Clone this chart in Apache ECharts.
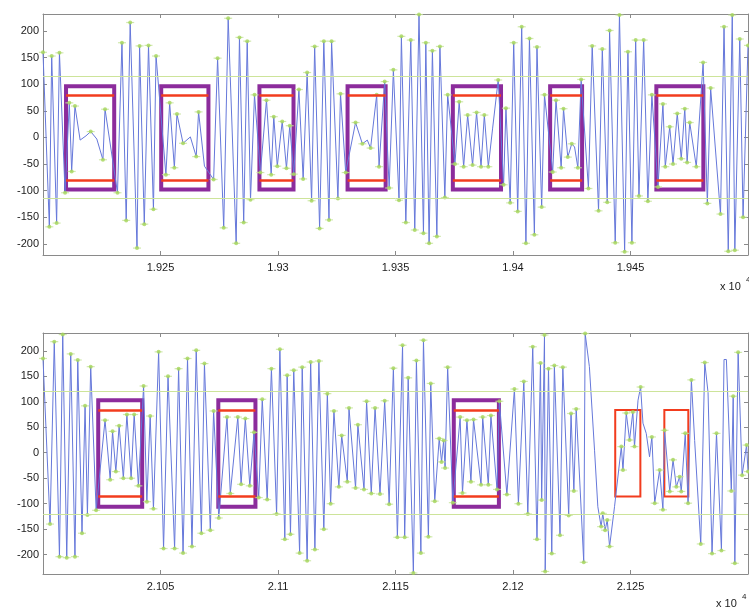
<!DOCTYPE html>
<html><head><meta charset="utf-8">
<script src="https://cdn.jsdelivr.net/npm/echarts@6/dist/echarts.min.js"></script>
<style>html,body{margin:0;padding:0;background:#fff}#c{width:749px;height:611px}</style>
</head><body><div id="c"></div>
<script>
// ---------- data ----------
const topX = [19200,19202.7,19203.7,19205.8,19207.0,19209.4,19211.2,19212.2,19213.6,19215.8,19218.3,19220.3,19222.9,19225.5,19226.4,19231.7,19233.6,19235.4,19237.1,19240.0,19241.1,19243.1,19244.9,19247.0,19248.1,19252.3,19253.9,19255.9,19257.0,19259.6,19262.7,19265.2,19266.2,19268.7,19272.6,19274.3,19276.9,19278.8,19282.2,19283.6,19285.4,19286.9,19288.3,19290.0,19292.5,19295.1,19297.1,19298.2,19299.7,19301.8,19303.6,19305.0,19306.7,19308.9,19310.7,19312.4,19314.3,19315.6,19317.7,19319.5,19321.7,19322.8,19325.5,19326.6,19328.8,19333.0,19335.9,19338.0,19339.4,19342.0,19343.0,19345.4,19347.3,19349.1,19351.5,19352.5,19354.4,19356.5,19358.2,19360.0,19361.9,19362.9,19364.3,19365.7,19367.6,19368.9,19371.0,19372.2,19375.3,19377.1,19379.0,19380.7,19382.8,19384.5,19386.4,19387.8,19389.5,19391.3,19393.7,19396.0,19397.0,19398.8,19400.3,19402.0,19403.7,19405.5,19407.0,19409.1,19410.2,19412.2,19413.4,19416.9,19418.3,19420.5,19421.5,19423.3,19425.0,19426.2,19427.6,19429.0,19432.1,19433.7,19436.4,19438.0,19440.1,19441.1,19443.5,19445.3,19447.5,19448.9,19450.6,19452.2,19453.6,19455.6,19457.4,19459.1,19461.7,19463.8,19464.8,19466.7,19468.1,19469.9,19471.6,19473.1,19474.1,19475.2,19478.0,19480.9,19482.7,19484.1,19488.3,19489.8,19491.6,19493.3,19494.4,19496.5,19497.9,19500];
const topY = [160,-168,153,-161,159,-104,65,-64,59,-5,3,11,-3,-42,53,-104,178,-156,216,-208,172,-163,173,-135,153,-70,65,-57,44,-11,1,-36,48,-54,-79,149,-170,224,-199,188,-160,181,-117,80,-66,70,-70,39,-54,30,-58,22,-69,90,-78,122,-119,171,-171,181,-155,181,-115,82,-66,28,-12,-5,-20,80,-55,105,-95,127,-118,190,-160,183,-174,231,-180,178,-199,163,-186,171,-113,80,-50,67,-55,42,-52,47,-55,42,-55,16,108,-89,55,-123,178,-139,208,-199,186,-183,170,-131,80,-65,70,-57,54,-37,-12,-18,-57,109,-96,172,-138,166,-122,201,-198,230,-215,161,-198,183,-110,183,-120,80,-93,63,-55,20,-50,45,-40,54,-47,28,-55,141,-124,93,-144,208,-214,230,-212,185,-150,173];

const botX = [21000,21003.0,21004.8,21007.0,21008.4,21010.1,21011.8,21013.6,21014.8,21016.6,21017.9,21018.9,21020.3,21022.6,21026.4,21028.6,21029.6,21031.0,21032.4,21034.2,21035.7,21037.5,21038.8,21040.6,21042.8,21044.2,21045.6,21047.0,21049.2,21051.3,21053.2,21056.0,21057.7,21059.6,21061.5,21063.4,21065.2,21067.4,21068.7,21071.2,21072.6,21074.8,21078.3,21079.7,21082.9,21084.3,21086.1,21088.0,21089.8,21091.8,21093.3,21095.4,21097.2,21099.4,21100.8,21102.9,21103.9,21105.3,21106.7,21109.2,21110.3,21112.4,21113.9,21115.7,21117.4,21119.5,21121.0,21122.4,21123.8,21125.9,21127.1,21129.5,21130.2,21133.0,21134.0,21136.6,21137.7,21139.7,21141.3,21143.4,21145.4,21147.3,21149.1,21150.8,21153.0,21153.9,21155.4,21157.6,21158.9,21160.8,21161.9,21164.0,21165.0,21166.7,21168.6,21169.6,21170.5,21171.1,21172.2,21174.4,21177.5,21178.5,21180.4,21182.1,21183.2,21186.4,21187.1,21189.5,21190.6,21193.2,21194.2,21197.4,21200.6,21202.3,21204.6,21206.3,21208.4,21210.2,21211.7,21212.2,21213.4,21213.7,21215.1,21216.5,21217.6,21220.0,21221.2,21223.7,21224.7,21225.9,21226.9,21230.1,21230.7,21232.5,21234.7,21236.1,21237.5,21238.2,21239.2,21240.1,21241.1,21243.2,21246.1,21246.8,21248.2,21249.6,21251.0,21251.7,21253.2,21254.3,21255.3,21256.7,21258.1,21259.1,21260.3,21262.4,21263.8,21264.5,21266.7,21268.1,21269.5,21270.9,21271.6,21273.3,21274.5,21275.9,21277.3,21279.9,21281.6,21283.0,21284.7,21286.6,21288.7,21289.8,21290.8,21292.9,21293.7,21294.4,21295.8,21297.5,21299.4,21300];
const botY = [185,-140,218,-204,232,-206,194,-204,182,-158,92,-122,169,-113,64,-53,42,-37,53,-50,75,-50,75,-65,131,-96,72,-110,198,-188,150,-188,165,-197,185,-184,201,-158,175,-152,82,-128,70,-80,70,-62,67,-65,40,-88,105,-92,165,-120,203,-170,152,-160,162,-197,168,-212,178,-190,180,-150,116,-100,82,-67,34,-57,88,-69,55,-72,101,-80,88,-81,102,-101,166,-166,211,-166,147,-236,181,-197,221,-165,136,-95,28,-18,24,-30,168,-98,70,-79,64,-57,65,-63,70,-63,73,-72,101,-82,125,-100,140,-120,208,-170,176,-93,231,-233,165,-198,171,-162,168,-123,77,-75,86,-215,234,169,5,-106,-145,-119,-152,-132,-184,-106,12,-34,78,25,80,12,103,129,58,38,-8,31,-99,-34,-112,44,-76,-14,-67,-47,-76,38,-99,143,24,-179,177,118,-198,38,-192,183,183,-75,111,-217,197,-44,15,-37];

const topXTicks = [19250,19300,19350,19400,19450];
const topXLabels = ['1.925','1.93','1.935','1.94','1.945'];
const botXTicks = [21050,21100,21150,21200,21250];
const botXLabels = ['2.105','2.11','2.115','2.12','2.125'];
const yTicks = [-200,-150,-100,-50,0,50,100,150,200];
const yLabels = ['-200','-150','-100','-50','0','50','100','150','200'];
const topRange = [-221,232];
const botRange = [-238,235];
const topXRange = [19200,19500];
const botXRange = [21000,21300];

const topThresholds = [115,-115];
const botThresholds = [120,-120];
const topBoxes = [[19209.8,19230.3],[19250.3,19270.4],[19292.1,19306.6],[19329.6,19345.8],[19374.4,19394.9],[19415.8,19429.4],[19461.0,19481.0]];
const topBoxY = [-98,96];
const topRedY = [79,-81];
const botBoxes = [[21023.5,21042.2],[21074.6,21090.4],[21174.8,21194.0]];
const botBoxY = [-106,103];
const botRedY = [84,-86];
const botRedBoxes = [[21243.5,21254.2],[21264.4,21274.6]];
const botRedBoxY = [-86,84];

// ---------- build ----------
function pairs(xs, ys){ return xs.map((x,i)=>[x, ys[i]]); }
function extrema(xs, ys){
  const out=[];
  for(let i=0;i<ys.length;i++){
    const p = i>0?ys[i-1]:null, n = i<ys.length-1?ys[i+1]:null;
    const isMax = (p===null||ys[i]>p)&&(n===null||ys[i]>n);
    const isMin = (p===null||ys[i]<p)&&(n===null||ys[i]<n);
    if((isMax||isMin) && Math.abs(ys[i])>10) out.push([xs[i], ys[i]]);
  }
  return out;
}
const FRAME='#8a8a8a', TXT='#1a1a1a', FONT='Liberation Sans, Arial, sans-serif';
function xAx(grid, range, ticks, labels, pos){
  return {type:'value', gridIndex:grid, position:pos, min:range[0], max:range[1],
    axisLine:{show:true, onZero:false, lineStyle:{color:FRAME, width:1}},
    axisTick:{show:true, inside:true, length:4, customValues:ticks, lineStyle:{color:FRAME}},
    axisLabel:{show:pos==='bottom', customValues:ticks, margin:7, color:TXT, fontSize:11, fontFamily:FONT,
      formatter:v=>{const k=ticks.indexOf(v); return k>=0?labels[k]:'';}},
    splitLine:{show:false}};
}
function yAx(grid, range, pos){
  return {type:'value', gridIndex:grid, position:pos, min:range[0], max:range[1],
    axisLine:{show:true, onZero:false, lineStyle:{color:FRAME, width:1}},
    axisTick:{show:true, inside:true, length:4, customValues:yTicks, lineStyle:{color:FRAME}},
    axisLabel:{show:pos==='left', customValues:yTicks, margin:4, color:TXT, fontSize:11, fontFamily:FONT,
      formatter:v=>{const k=yTicks.indexOf(v); return k>=0?yLabels[k]:'';}},
    splitLine:{show:false}};
}
function panelSeries(ax, xs, ys, thr, boxes, boxY, redY, redBoxes, redBoxY){
  const s=[];
  s.push({type:'line', xAxisIndex:ax, yAxisIndex:ax, data:pairs(xs,ys), showSymbol:false, silent:true,
    lineStyle:{color:'#6678da', width:1}, z:2,
    markLine:{silent:true, symbol:['none','none'], label:{show:false},
      lineStyle:{color:'#cde49a', width:1, type:'solid'},
      data:thr.map(v=>({yAxis:v}))}});
  const ex = extrema(xs,ys);
  s.push({type:'scatter', xAxisIndex:ax, yAxisIndex:ax, data:ex, symbol:'rect', symbolSize:[8,1.2], silent:true,
    itemStyle:{color:'#c6e39a'}, z:3});
  s.push({type:'scatter', xAxisIndex:ax, yAxisIndex:ax, data:ex, symbol:'circle', symbolSize:4, silent:true,
    itemStyle:{color:'#a5d65a'}, z:3});
  const redSegs=[];
  boxes.forEach(b=>redY.forEach(y=>redSegs.push([{coord:[b[0],y]},{coord:[b[1],y]}])));
  s.push({type:'line', xAxisIndex:ax, yAxisIndex:ax, data:[], z:4,
    markLine:{silent:true, symbol:['none','none'], label:{show:false},
      lineStyle:{color:'#f23c1e', width:2.5, type:'solid'}, data:redSegs}});
  const areas = boxes.map(b=>[{coord:[b[0],boxY[1]], itemStyle:{color:'rgba(0,0,0,0)', borderColor:'#8c2c9c', borderWidth:4}},{coord:[b[1],boxY[0]]}]);
  if(redBoxes){
    redBoxes.forEach(b=>areas.push([{coord:[b[0],redBoxY[1]], itemStyle:{color:'rgba(0,0,0,0)', borderColor:'#f23c1e', borderWidth:2}},{coord:[b[1],redBoxY[0]]}]));
  }
  s.push({type:'line', xAxisIndex:ax, yAxisIndex:ax, data:[], z:5,
    markArea:{silent:true, label:{show:false}, data:areas}});
  return s;
}

const chart = echarts.init(document.getElementById('c'), null, {renderer:'canvas'});
chart.setOption({
  animation:false,
  backgroundColor:'#fff',
  grid:[{left:43, top:14, width:705, height:241},{left:43, top:333, width:705, height:241}],
  xAxis:[xAx(0,topXRange,topXTicks,topXLabels,'bottom'), xAx(1,botXRange,botXTicks,botXLabels,'bottom'),
         xAx(0,topXRange,topXTicks,topXLabels,'top'), xAx(1,botXRange,botXTicks,botXLabels,'top')],
  yAxis:[yAx(0,topRange,'left'), yAx(1,botRange,'left'), yAx(0,topRange,'right'), yAx(1,botRange,'right')],
  series:[...panelSeries(0, topX, topY, topThresholds, topBoxes, topBoxY, topRedY, null, null),
          ...panelSeries(1, botX, botY, botThresholds, botBoxes, botBoxY, botRedY, botRedBoxes, botRedBoxY)],
  graphic:[
    {type:'text', left:720, top:281, style:{text:'x 10', font:'11px '+FONT, fill:TXT}},
    {type:'text', left:746, top:276, style:{text:'4', font:'8px '+FONT, fill:TXT}},
    {type:'text', left:716, top:598, style:{text:'x 10', font:'11px '+FONT, fill:TXT}},
    {type:'text', left:742, top:593, style:{text:'4', font:'8px '+FONT, fill:TXT}}
  ]
});
</script></body></html>
